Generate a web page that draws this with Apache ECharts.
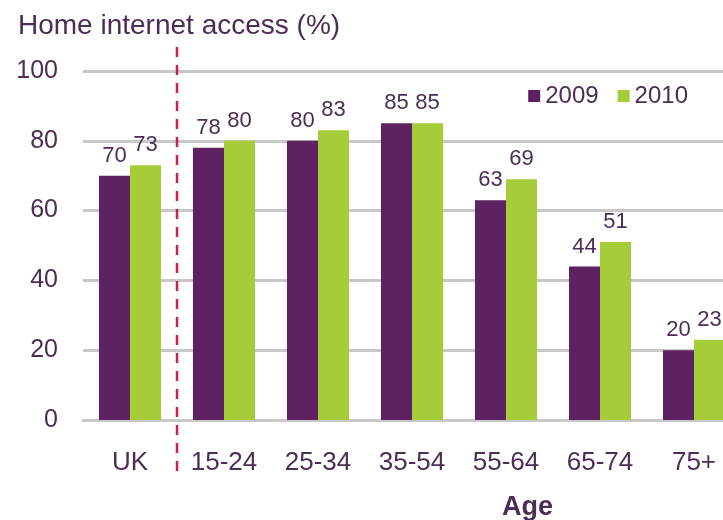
<!DOCTYPE html>
<html><head><meta charset="utf-8">
<script src="https://cdn.jsdelivr.net/npm/echarts@6/dist/echarts.min.js"></script>
<style>html,body{margin:0;padding:0;background:#fff}#c{width:723px;height:520px}</style>
</head><body><div id="c"></div>
<script>
const categories = ['UK', '15-24', '25-34', '35-54', '55-64', '65-74', '75+'];
const values2009 = [70, 78, 80, 85, 63, 44, 20];
const values2010 = [73, 80, 83, 85, 69, 51, 23];
const yTicks = [0, 20, 40, 60, 80, 100];

const txt = '#4b2d55';
const font = 'Liberation Sans, Arial, sans-serif';
const chart = echarts.init(document.getElementById('c'), null, {renderer: 'canvas'});
const labelCfg = {show: true, position: 'top', distance: 9, color: txt, fontSize: 22, fontFamily: font};
chart.setOption({
  animation: false,
  textStyle: {fontFamily: font},
  title: [
    {text: 'Home internet access (%)', left: 13, top: 7, textStyle: {color: txt, fontSize: 28, fontWeight: 'normal', fontFamily: font}},
    {text: 'Age', left: 497, top: 489, textStyle: {color: txt, fontSize: 27, fontWeight: 'bold', fontFamily: font}}
  ],
  legend: {
    right: 35, top: 84, itemWidth: 12, itemHeight: 12, itemGap: 19, padding: 0,
    textStyle: {color: txt, fontSize: 24, fontFamily: font},
    data: [{name: '2009', icon: 'rect'}, {name: '2010', icon: 'rect'}]
  },
  grid: {left: 83, top: 71, width: 658, height: 349, containLabel: false, outerBoundsMode: 'none'},
  xAxis: {
    type: 'category', data: categories,
    axisLine: {lineStyle: {color: '#c8c8c8', width: 3}},
    axisTick: {inside: true, length: 6, lineStyle: {color: '#c8c8c8', width: 3}},
    axisLabel: {color: txt, fontSize: 26, margin: 30, fontFamily: font}
  },
  yAxis: {
    type: 'value', min: yTicks[0], max: yTicks[yTicks.length - 1], interval: 20,
    axisLine: {show: false}, axisTick: {show: false},
    axisLabel: {color: txt, fontSize: 25, margin: 25, fontFamily: font},
    splitLine: {lineStyle: {color: '#c8c8c8', width: 3}}
  },
  series: [
    {name: '2009', type: 'bar', data: values2009, barGap: '0%', barCategoryGap: '34%',
     itemStyle: {color: '#5e2161'}, label: labelCfg},
    {name: '2010', type: 'bar', data: values2010,
     itemStyle: {color: '#a6cd39'}, label: labelCfg}
  ]
});
// dashed separator between UK and age groups
const p0 = chart.convertToPixel({xAxisIndex: 0}, categories[0]);
const p1 = chart.convertToPixel({xAxisIndex: 0}, categories[1]);
const xs = Math.round((p0 + p1) / 2);
chart.setOption({
  graphic: [{type: 'line', shape: {x1: xs, y1: 47, x2: xs, y2: 478}, z: 100,
    style: {stroke: '#cc1f4e', lineWidth: 2.5, lineDash: [10, 8]}}]
});
</script></body></html>
